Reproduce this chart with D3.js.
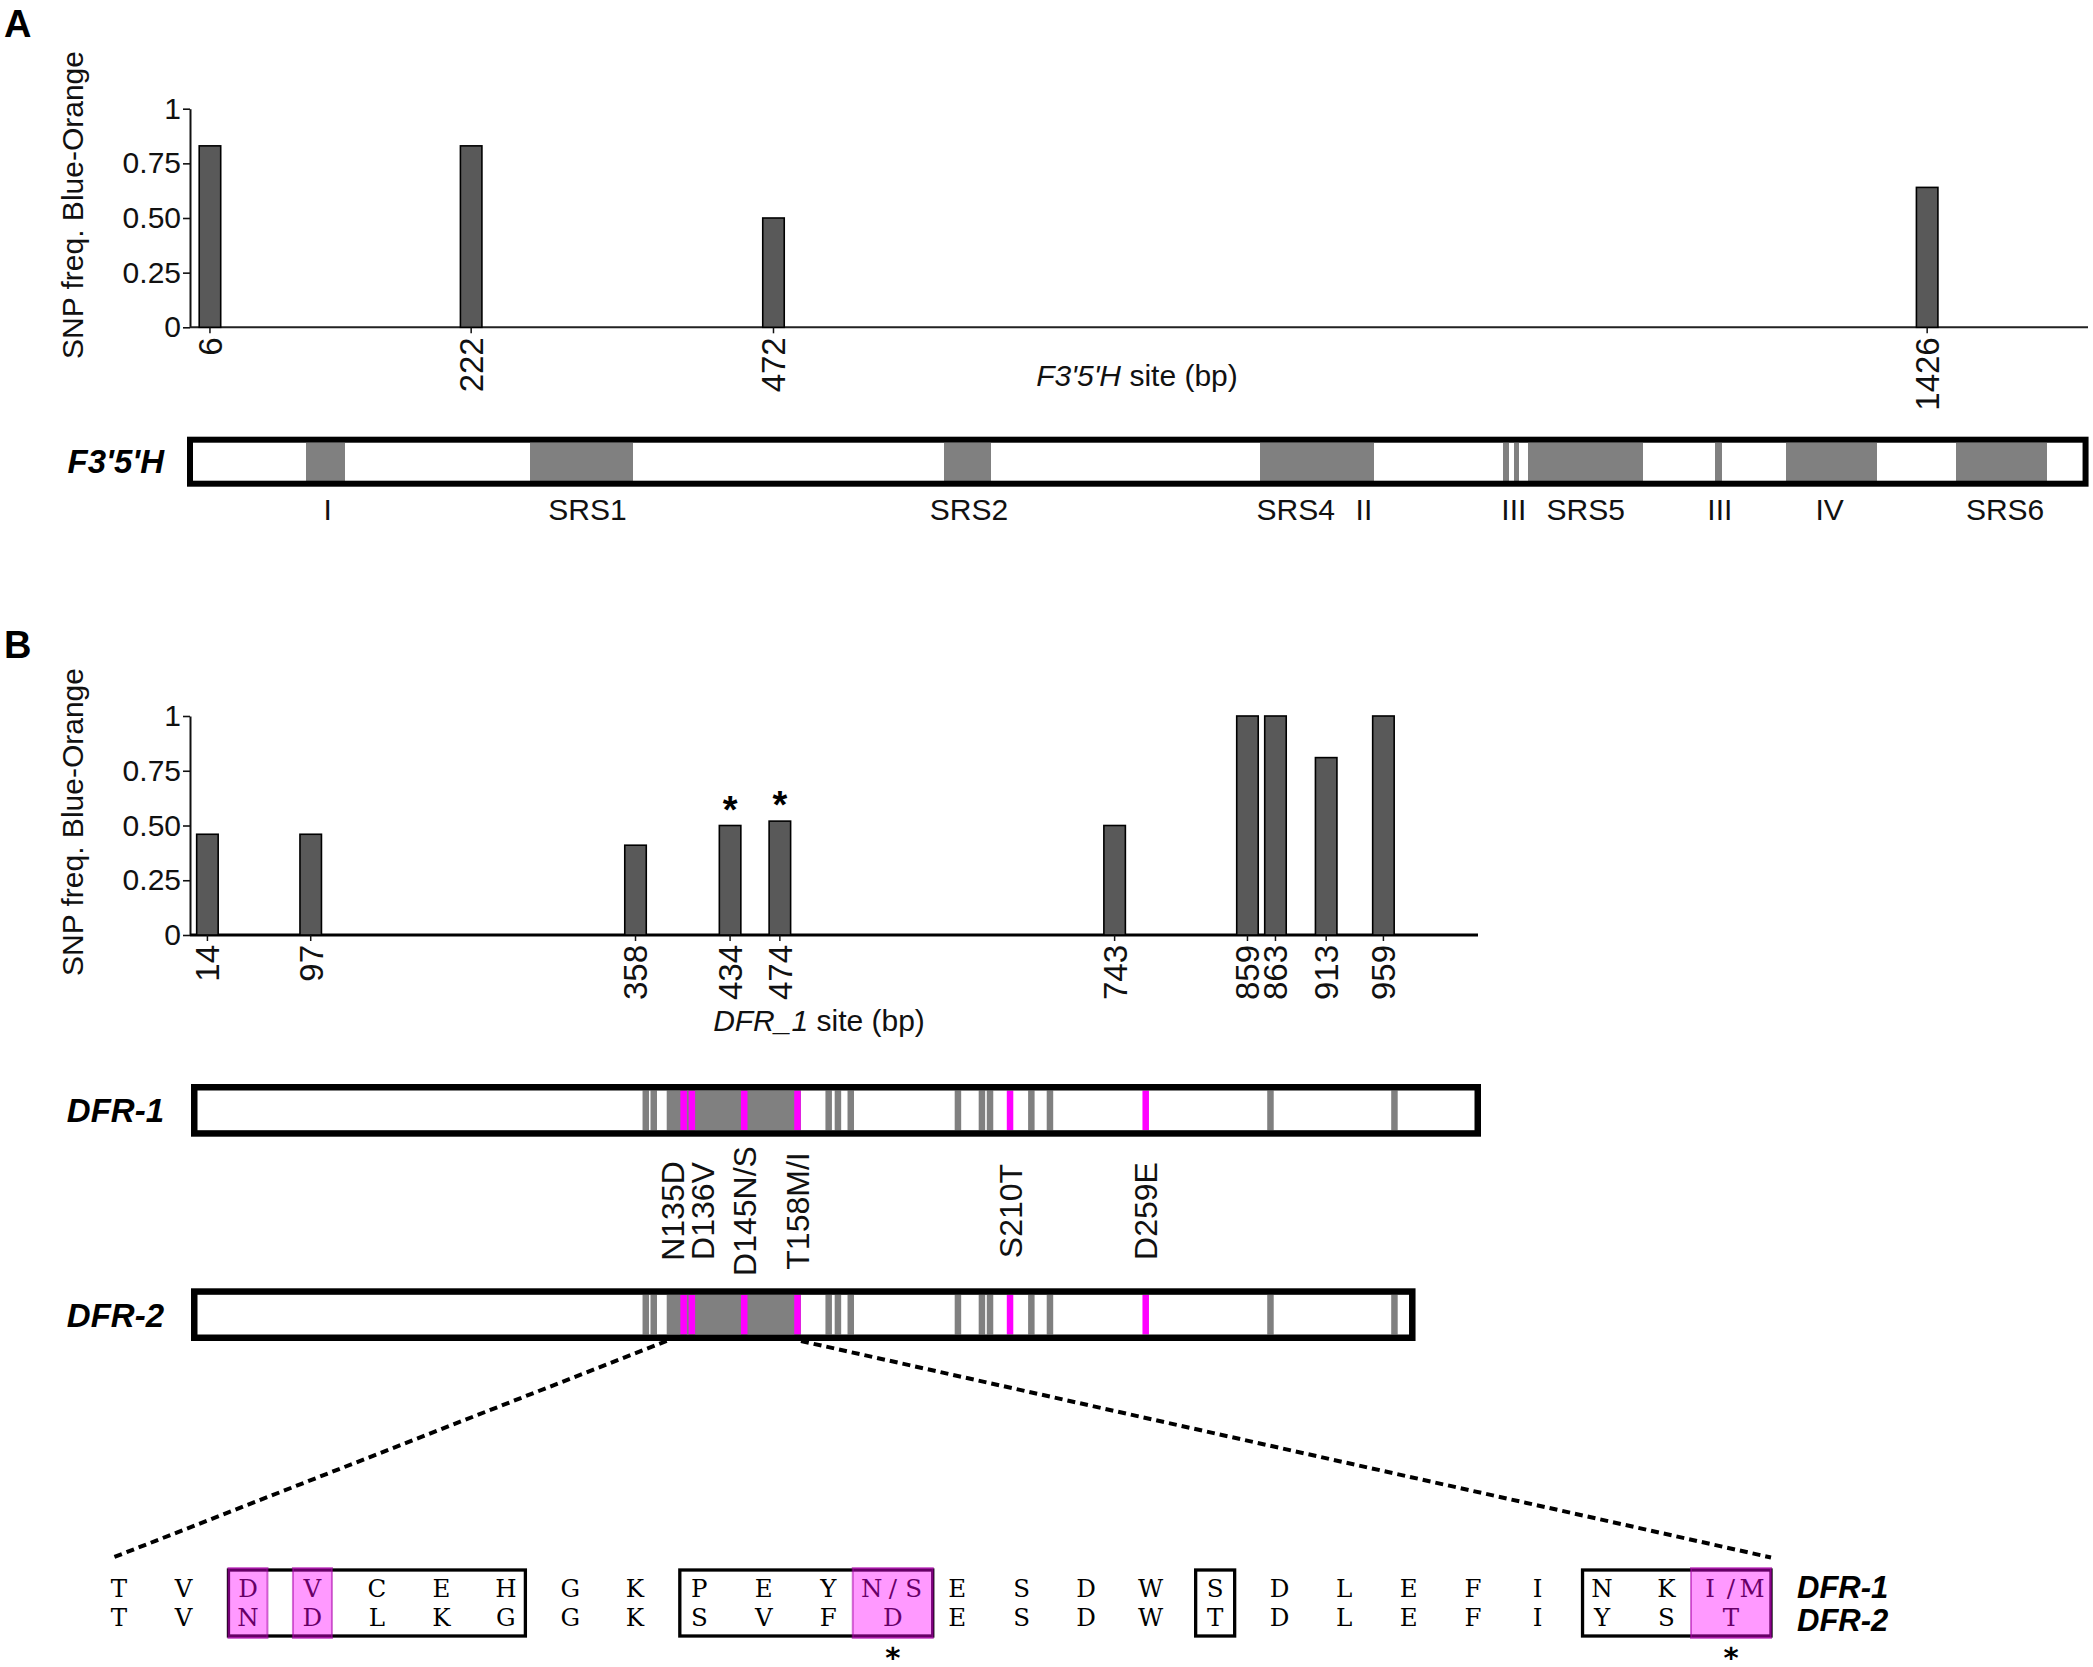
<!DOCTYPE html>
<html>
<head>
<meta charset="utf-8">
<script src="https://cdn.jsdelivr.net/npm/d3@7"></script>
<style>
  body { margin: 0; background: #fff; }
  svg { display: block; font-family: "Liberation Sans", Arial, sans-serif; }
</style>
</head>
<body>
<svg id="fig" width="2093" height="1667"></svg>
<script>
// ---- panel A: F3'5'H SNPs ----
const f35hSites = [6, 222, 472, 1426];
const f35hFreq = [0.83, 0.83, 0.5, 0.64];
const f35hLength = 1555;
// conserved regions along the gene (bp)
const f35hRegionStart = [95.2, 278.7, 618.9, 877.4, 943, 1077.4, 1086.1, 1097.8, 1251.1, 1308.9, 1448.7];
const f35hRegionEnd = [127.1, 362.8, 656.6, 943, 971.1, 1081.9, 1089.8, 1191.4, 1256.6, 1383.2, 1523.1];
const f35hLabels = ["I", "SRS1", "SRS2", "SRS4", "II", "III", "SRS5", "III", "IV", "SRS6"];
const f35hLabelAt = [113, 326, 639, 907, 963, 1086, 1145, 1255, 1345, 1489];

// ---- panel B: DFR SNPs ----
const dfrSites = [14, 97, 358, 434, 474, 743, 859, 863, 913, 959];
const dfrFreq = [0.46, 0.46, 0.41, 0.5, 0.52, 0.5, 1, 1, 0.81, 1];
const dfrStarred = [434, 474];

const freqTicks = [0, 0.25, 0.5, 0.75, 1];
const freqTickLabels = ["0", "0.25", "0.50", "0.75", "1"];

// protein schematic, positions in % of DFR-1 length
const dfr1Length = 100;
const dfr2Length = 94.9;
const zoomRegion = [36.81, 47.27];
const variableSites = [35.18, 35.8, 49.43, 50.15, 51.15, 59.5, 61.37, 62.0, 65.22, 66.67, 83.85, 93.51];
const substitutions = ["N135D", "D136V", "D145N/S", "T158M/I", "S210T", "D259E"];
const substitutionAt = [38.13, 38.77, 42.85, 47.0, 63.56, 74.13];

// alignment of the zoomed region
const dfr1Residues = ["T", "V", "D", "V", "C", "E", "H", "G", "K", "P", "E", "Y", "N/S", "E", "S", "D", "W", "S", "D", "L", "E", "F", "I", "N", "K", "I/M"];
const dfr2Residues = ["T", "V", "N", "D", "L", "K", "G", "G", "K", "S", "V", "F", "D", "E", "S", "D", "W", "T", "D", "L", "E", "F", "I", "Y", "S", "T"];
const boxedBlocks = [[2, 6], [9, 12], [17, 17], [23, 25]];
const pinkResidues = [2, 3, 12, 25];
const starredResidues = [12, 25];

const svg = d3.select("#fig");
const BAR_W = 21.5;
const GREY = "#808080";
const MAGENTA = "#ff00ff";
const ORIGIN_X = 190;

const xA = d3.scaleLinear().domain([0, 1559]).range([202.7, 2088]);
const yA = d3.scaleLinear().domain([0, 1]).range([327.3, 108.7]);
const xGeneA = d3.scaleLinear().domain([0, 1557]).range([190, 2088]);
const xB = d3.scaleLinear().domain([0, 1035]).range([190, 1478]);
const yB = d3.scaleLinear().domain([0, 1]).range([935, 716]);
const xP = d3.scaleLinear().domain([0, dfr1Length]).range([194.25, 1477.75]);
const xS = d3.scaleLinear().domain([0, dfr1Residues.length - 1]).range([119, 1731]);

// push apart neighbours that would overlap, keeping each cluster centred
function spread(xs, minGap) {
  const out = xs.slice();
  let i = 0;
  while (i < xs.length) {
    let j = i;
    while (j + 1 < xs.length && xs[j + 1] - xs[j] < minGap) j++;
    if (j > i) {
      const mid = (xs[i] + xs[j]) / 2;
      for (let k = i; k <= j; k++) out[k] = mid + (k - (i + j) / 2) * minGap;
    }
    i = j + 1;
  }
  return out;
}

function drawSnpChart({ x, y, sites, freqs, starred, baseWidth, baseColor, titleY }) {
  const g = svg.append("g");
  const pos = spread(sites.map(x), BAR_W + 6.5);
  const y0 = y(0);
  const rows = sites.map((s, i) => ({ site: s, freq: freqs[i], px: pos[i] }));

  g.append("g")
    .attr("transform", `translate(${ORIGIN_X},0)`)
    .call(d3.axisLeft(y).tickValues(freqTicks)
      .tickFormat((d, i) => freqTickLabels[i])
      .tickSize(7).tickSizeOuter(0).tickPadding(2))
    .call((ax) => {
      ax.select(".domain").attr("stroke", "#111").attr("stroke-width", 2);
      ax.selectAll(".tick line").attr("stroke", "#111").attr("stroke-width", 1.6);
      ax.selectAll(".tick text")
        .attr("font-family", '"Liberation Sans", Arial, sans-serif')
        .attr("font-size", 30).attr("fill", "#111");
    });

  g.append("line")
    .attr("x1", ORIGIN_X).attr("x2", x.range()[1])
    .attr("y1", y0).attr("y2", y0)
    .attr("stroke", baseColor).attr("stroke-width", baseWidth);

  g.selectAll("rect.bar").data(rows).join("rect")
    .attr("class", "bar")
    .attr("x", (d) => d.px - BAR_W / 2)
    .attr("width", BAR_W)
    .attr("y", (d) => y(d.freq))
    .attr("height", (d) => y0 - y(d.freq))
    .attr("fill", "#595959")
    .attr("stroke", "#000")
    .attr("stroke-width", 1.6);

  g.selectAll("line.xtick").data(rows).join("line")
    .attr("class", "xtick")
    .attr("x1", (d) => d.px).attr("x2", (d) => d.px)
    .attr("y1", y0).attr("y2", y0 + 6)
    .attr("stroke", "#111").attr("stroke-width", 1.5);

  g.selectAll("text.xlab").data(rows).join("text")
    .attr("class", "xlab")
    .attr("transform", (d) => `translate(${d.px},${y0 + 10}) rotate(-90)`)
    .attr("text-anchor", "end")
    .attr("dy", "0.36em")
    .attr("font-size", 33)
    .attr("fill", "#111")
    .text((d) => d.site);

  g.selectAll("text.star").data(rows.filter((d) => starred.includes(d.site))).join("text")
    .attr("class", "star")
    .attr("x", (d) => d.px)
    .attr("y", (d) => y(d.freq) - 3)
    .attr("text-anchor", "middle")
    .attr("font-size", 38)
    .attr("font-weight", "bold")
    .text("*");

  g.append("text")
    .attr("transform", `translate(83,${titleY}) rotate(-90)`)
    .attr("text-anchor", "middle")
    .attr("font-size", 30)
    .attr("fill", "#111")
    .text("SNP freq. Blue-Orange");
}

function axisLabel(cx, baseline, italicPart) {
  const t = svg.append("text")
    .attr("x", cx).attr("y", baseline)
    .attr("text-anchor", "middle")
    .attr("font-size", 30)
    .attr("fill", "#111");
  t.append("tspan").attr("font-style", "italic").text(italicPart);
  t.append("tspan").text(" site (bp)");
}

function geneLabel(text, x, baseline, size, anchor) {
  svg.append("text")
    .attr("x", x).attr("y", baseline)
    .attr("text-anchor", anchor)
    .attr("font-size", size)
    .attr("font-weight", "bold")
    .attr("font-style", "italic")
    .text(text);
}

// panel letters
svg.append("text").attr("x", 4).attr("y", 37).attr("font-size", 38).attr("font-weight", "bold").text("A");
svg.append("text").attr("x", 4).attr("y", 658).attr("font-size", 38).attr("font-weight", "bold").text("B");

// ---- panel A ----
drawSnpChart({ x: xA, y: yA, sites: f35hSites, freqs: f35hFreq, starred: [], baseWidth: 2, baseColor: "#222", titleY: 205 });
axisLabel(1137, 386, "F3'5'H");

const geneA = svg.append("g");
const boxA = { y: 439.7, h: 44, stroke: 6 };
geneA.append("rect")
  .attr("x", xGeneA(0)).attr("y", boxA.y)
  .attr("width", xGeneA(f35hLength) - xGeneA(0)).attr("height", boxA.h)
  .attr("fill", "#fff");
geneA.selectAll("rect.region").data(f35hRegionStart.map((s, i) => [s, f35hRegionEnd[i]])).join("rect")
  .attr("class", "region")
  .attr("shape-rendering", "crispEdges")
  .attr("x", (d) => xGeneA(d[0]))
  .attr("width", (d) => xGeneA(d[1]) - xGeneA(d[0]) + 0.5)
  .attr("y", boxA.y + boxA.stroke / 2)
  .attr("height", boxA.h - boxA.stroke)
  .attr("fill", GREY);
geneA.append("rect")
  .attr("x", xGeneA(0)).attr("y", boxA.y)
  .attr("width", xGeneA(f35hLength) - xGeneA(0)).attr("height", boxA.h)
  .attr("fill", "none").attr("stroke", "#000").attr("stroke-width", boxA.stroke);
geneA.selectAll("text.rlab").data(f35hLabels.map((l, i) => [l, f35hLabelAt[i]])).join("text")
  .attr("class", "rlab")
  .attr("x", (d) => xGeneA(d[1]))
  .attr("y", 519.6)
  .attr("text-anchor", "middle")
  .attr("font-size", 30)
  .attr("fill", "#111")
  .text((d) => d[0]);
geneLabel("F3'5'H", 164, 473, 33, "end");

// ---- panel B ----
drawSnpChart({ x: xB, y: yB, sites: dfrSites, freqs: dfrFreq, starred: dfrStarred, baseWidth: 3, baseColor: "#000", titleY: 822 });
axisLabel(819, 1031, "DFR_1");

function drawProtein(top, length) {
  const stroke = 6.5, h = 46.2;
  const inY = top + stroke / 2, inH = h - stroke;
  const g = svg.append("g");
  g.append("rect").attr("x", xP(0)).attr("y", top).attr("width", xP(length) - xP(0)).attr("height", h).attr("fill", "#fff");
  g.append("rect")
    .attr("x", xP(zoomRegion[0])).attr("width", xP(zoomRegion[1]) - xP(zoomRegion[0]))
    .attr("y", inY).attr("height", inH).attr("fill", GREY);
  g.selectAll("rect.var").data(variableSites).join("rect")
    .attr("class", "var")
    .attr("x", (d) => xP(d) - 3.25).attr("width", 6.5)
    .attr("y", inY).attr("height", inH).attr("fill", GREY);
  g.selectAll("rect.sub").data(substitutionAt).join("rect")
    .attr("class", "sub")
    .attr("x", (d) => xP(d) - 3.25).attr("width", 6.5)
    .attr("y", inY).attr("height", inH).attr("fill", MAGENTA);
  g.append("rect").attr("x", xP(0)).attr("y", top).attr("width", xP(length) - xP(0)).attr("height", h)
    .attr("fill", "none").attr("stroke", "#000").attr("stroke-width", stroke);
  return top + h + stroke / 2;
}

drawProtein(1087.25, dfr1Length);
const dfr2Bottom = drawProtein(1291.55, dfr2Length);
geneLabel("DFR-1", 164, 1122, 33, "end");
geneLabel("DFR-2", 164, 1326.5, 33, "end");

const subPos = spread(substitutionAt.map(xP), 30);
svg.selectAll("text.sublab").data(substitutions).join("text")
  .attr("class", "sublab")
  .attr("transform", (d, i) => `translate(${subPos[i]},1211) rotate(-90)`)
  .attr("text-anchor", "middle")
  .attr("dy", "0.36em")
  .attr("font-size", 32)
  .attr("fill", "#111")
  .text((d) => d);

// ---- alignment ----
const halfW = (r) => (r.length > 1 ? 40 : 19.5);
const seqLeft = xS(0) - 6;
const seqRight = xS(dfr1Residues.length - 1) + halfW(dfr1Residues[dfr1Residues.length - 1]);

svg.append("g").selectAll("line").data([[zoomRegion[0], seqLeft], [zoomRegion[1], seqRight]]).join("line")
  .attr("x1", (d) => xP(d[0])).attr("y1", dfr2Bottom)
  .attr("x2", (d) => d[1]).attr("y2", 1557.5)
  .attr("stroke", "#000").attr("stroke-width", 4).attr("stroke-dasharray", "8,5");

const seqG = svg.append("g").attr("font-family", '"DejaVu Serif", "Liberation Serif", serif').attr("font-size", 24.5).attr("fill", "#000");
[[dfr1Residues, 1597], [dfr2Residues, 1625.5]].forEach(([res, base]) => {
  res.forEach((r, i) => {
    const chars = [...r];
    chars.forEach((c, k) => {
      seqG.append("text")
        .attr("x", xS(i) + (k - (chars.length - 1) / 2) * 21)
        .attr("y", base)
        .attr("text-anchor", "middle")
        .text(c);
    });
  });
});

svg.append("g").selectAll("rect").data(boxedBlocks).join("rect")
  .attr("x", (d) => xS(d[0]) - halfW(dfr1Residues[d[0]]))
  .attr("width", (d) => xS(d[1]) + halfW(dfr1Residues[d[1]]) - xS(d[0]) + halfW(dfr1Residues[d[0]]))
  .attr("y", 1570).attr("height", 66)
  .attr("fill", "none").attr("stroke", "#000").attr("stroke-width", 3.3);

svg.append("g").selectAll("rect").data(pinkResidues).join("rect")
  .attr("x", (d) => xS(d) - halfW(dfr1Residues[d]))
  .attr("width", (d) => 2 * halfW(dfr1Residues[d]))
  .attr("y", 1568).attr("height", 70)
  .attr("fill", "rgba(255,0,255,0.4)")
  .attr("stroke", "rgba(170,0,170,0.55)").attr("stroke-width", 2);

// low asterisk so the mark can sit near the bottom edge
svg.append("g").selectAll("text").data(starredResidues).join("text")
  .attr("x", (d) => xS(d)).attr("y", 1659.5)
  .attr("text-anchor", "middle")
  .attr("font-family", '"DejaVu Sans", sans-serif')
  .attr("font-size", 29).attr("font-weight", "bold")
  .text("\u204E");

geneLabel("DFR-1", 1797, 1598, 31, "start");
geneLabel("DFR-2", 1797, 1630.5, 31, "start");
</script>
</body>
</html>
